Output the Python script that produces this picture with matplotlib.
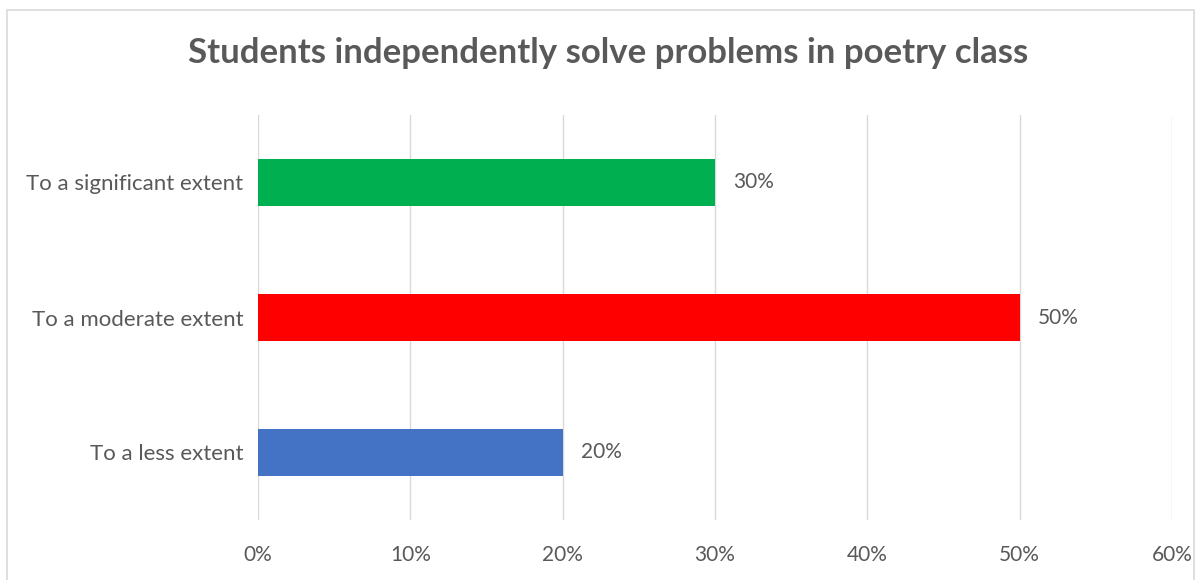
import matplotlib
matplotlib.use("Agg")
import matplotlib.pyplot as plt
from matplotlib.patches import Rectangle

categories = ["To a less extent", "To a moderate extent", "To a significant extent"]
values = [20, 50, 30]
colors = ["#4472C4", "#FF0000", "#00B050"]
xticks = [0, 10, 20, 30, 40, 50, 60]
title = "Students independently solve problems in poetry class"

W, H = 1203, 580
fig = plt.figure(figsize=(W / 100, H / 100), dpi=100)
plt.rcParams['font.family'] = ['Lato', 'DejaVu Sans']

# chart frame
fig.patches.append(Rectangle((7 / W, -0.01), (1194 - 7) / W, (H - 10) / H + 0.01,
                             transform=fig.transFigure, fill=False,
                             edgecolor="#D9D9D9", linewidth=1.2))

left, right, top, bottom = 258, 1172, 115, 520
ax = fig.add_axes([left / W, 1 - bottom / H, (right - left) / W, (bottom - top) / H])

y = range(len(categories))
bars = ax.barh(y, values, height=0.35, color=colors, zorder=3)
ax.set_xlim(0, 60)
ax.set_ylim(-0.5, 2.5)
ax.set_xticks(xticks)
ax.set_xticklabels([f"{v}%" for v in xticks])
ax.set_yticks(list(y))
ax.set_yticklabels(categories)
ax.grid(axis="x", color="#D9D9D9", linewidth=1, zorder=0)
for s in ax.spines.values():
    s.set_visible(False)
ax.tick_params(axis="both", length=0, labelcolor="#595959")
ax.tick_params(axis="x", pad=18, labelsize=15)
ax.tick_params(axis="y", pad=10.5, labelsize=16)

for b, v in zip(bars, values):
    ax.text(v + 1.2, b.get_y() + b.get_height() / 2, f"{v}%", va="center", ha="left",
            fontsize=15, color="#595959")

fig.text(608 / W, 1 - 63 / H, title, ha="center", va="baseline", fontsize=25,
         fontweight="bold", color="#595959")

fig.savefig("out.png", dpi=100)
